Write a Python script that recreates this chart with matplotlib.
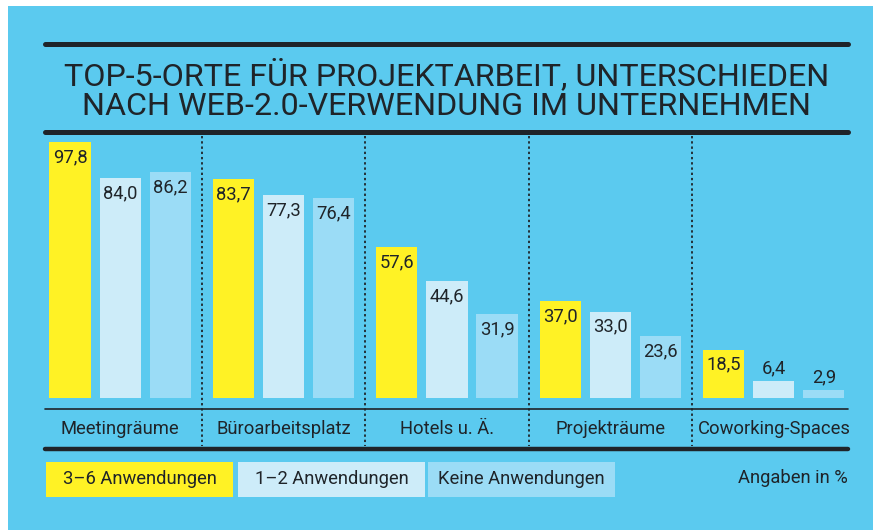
import matplotlib.pyplot as plt
from matplotlib.patches import Rectangle
from matplotlib.lines import Line2D
import numpy as np

# ---------- data ----------
categories = ["Meetingräume", "Büroarbeitsplatz", "Hotels u. Ä.", "Projekträume", "Coworking-Spaces"]
series_names = ["3–6 Anwendungen", "1–2 Anwendungen", "Keine Anwendungen"]
vals_high = [97.8, 83.7, 57.6, 37.0, 18.5]
vals_low = [84.0, 77.3, 44.6, 33.0, 6.4]
vals_none = [86.2, 76.4, 31.9, 23.6, 2.9]

title = "TOP-5-ORTE FÜR PROJEKTARBEIT, UNTERSCHIEDEN\nNACH WEB-2.0-VERWENDUNG IM UNTERNEHMEN"
note = "Angaben in %"

# ---------- style ----------
W, H = 873, 530
bg = "#5BCAEF"
dark = "#1F2429"
colors = ["#FFF225", "#CDECF9", "#9BDCF6"]
fs = 13.2
plt.rcParams["font.family"] = ["Roboto", "DejaVu Sans"]


def fx(px):
    return px / W


def fy(py):
    return 1 - py / H


fig = plt.figure(figsize=(W / 100, H / 100), dpi=100, facecolor="white")
# blue panel (white strip on top and left like the reference)
fig.patches.append(Rectangle((fx(8), 0), 1 - fx(8), fy(6), transform=fig.transFigure,
                             facecolor=bg, edgecolor="none", zorder=-5))

# ---------- bars ----------
ax = fig.add_axes([fx(45), fy(398), fx(848 - 45), (398 - 136) / H])
ax.set_facecolor("none")
x = np.arange(len(categories))
gap = 0.306
width = 0.251
for k, vals in enumerate([vals_high, vals_low, vals_none]):
    xs = x + (k - 1) * gap
    ax.bar(xs, vals, width=width, color=colors[k], edgecolor="none", zorder=2)
    for xi, v in zip(xs, vals):
        lab = f"{v:.1f}".replace(".", ",")
        if v >= 10:
            ax.annotate(lab, (xi, v), xytext=(0, -4.5), textcoords="offset points",
                        ha="center", va="top", fontsize=fs, color=dark, zorder=3)
        else:
            ax.annotate(lab, (xi, v), xytext=(0, 3), textcoords="offset points",
                        ha="center", va="bottom", fontsize=fs, color=dark, zorder=3)
ax.set_xlim(-0.459, 4.453)
ax.set_ylim(0, (398 - 136) / 2.62)
ax.axis("off")

# ---------- rules ----------
def hline(py, lw):
    fig.lines.append(Line2D([fx(45), fx(848)], [fy(py), fy(py)], transform=fig.transFigure,
                            color=dark, lw=lw, solid_capstyle="round"))

hline(44, 3.6)
hline(131.5, 3.6)
hline(409.3, 1.2)
hline(449, 3.2)

# dotted dividers between groups
for i in range(len(categories) - 1):
    px_div = ax.transData.transform((i + 0.5, 0))[0]
    xf = px_div / fig.bbox.width
    fig.lines.append(Line2D([xf, xf], [fy(136), fy(446)], transform=fig.transFigure,
                            color=dark, lw=1.3, linestyle=(0, (1.3, 1.6))))

# category labels
for i, c in enumerate(categories):
    px_c = ax.transData.transform((i, 0))[0] / fig.bbox.width
    fig.text(px_c, fy(429), c, ha="center", va="center", fontsize=fs, color=dark)

# ---------- title ----------
fig.text(fx(447), fy(89.5), title, ha="center", va="center", fontsize=23.2,
         color=dark, linespacing=1.03)

# ---------- legend ----------
legend_boxes = [(46, 233), (238, 425), (428, 615)]
for (x0, x1), name, col in zip(legend_boxes, series_names, colors):
    fig.patches.append(Rectangle((fx(x0), fy(497)), fx(x1 - x0), (497 - 462) / H,
                                 transform=fig.transFigure, facecolor=col,
                                 edgecolor="none", zorder=1))
    fig.text(fx((x0 + x1) / 2), fy(479.5), name, ha="center", va="center",
             fontsize=fs, color=dark, zorder=2)

fig.text(fx(848), fy(478), note, ha="right", va="center", fontsize=fs, color=dark)

fig.savefig("out.png", dpi=100, facecolor=fig.get_facecolor())
